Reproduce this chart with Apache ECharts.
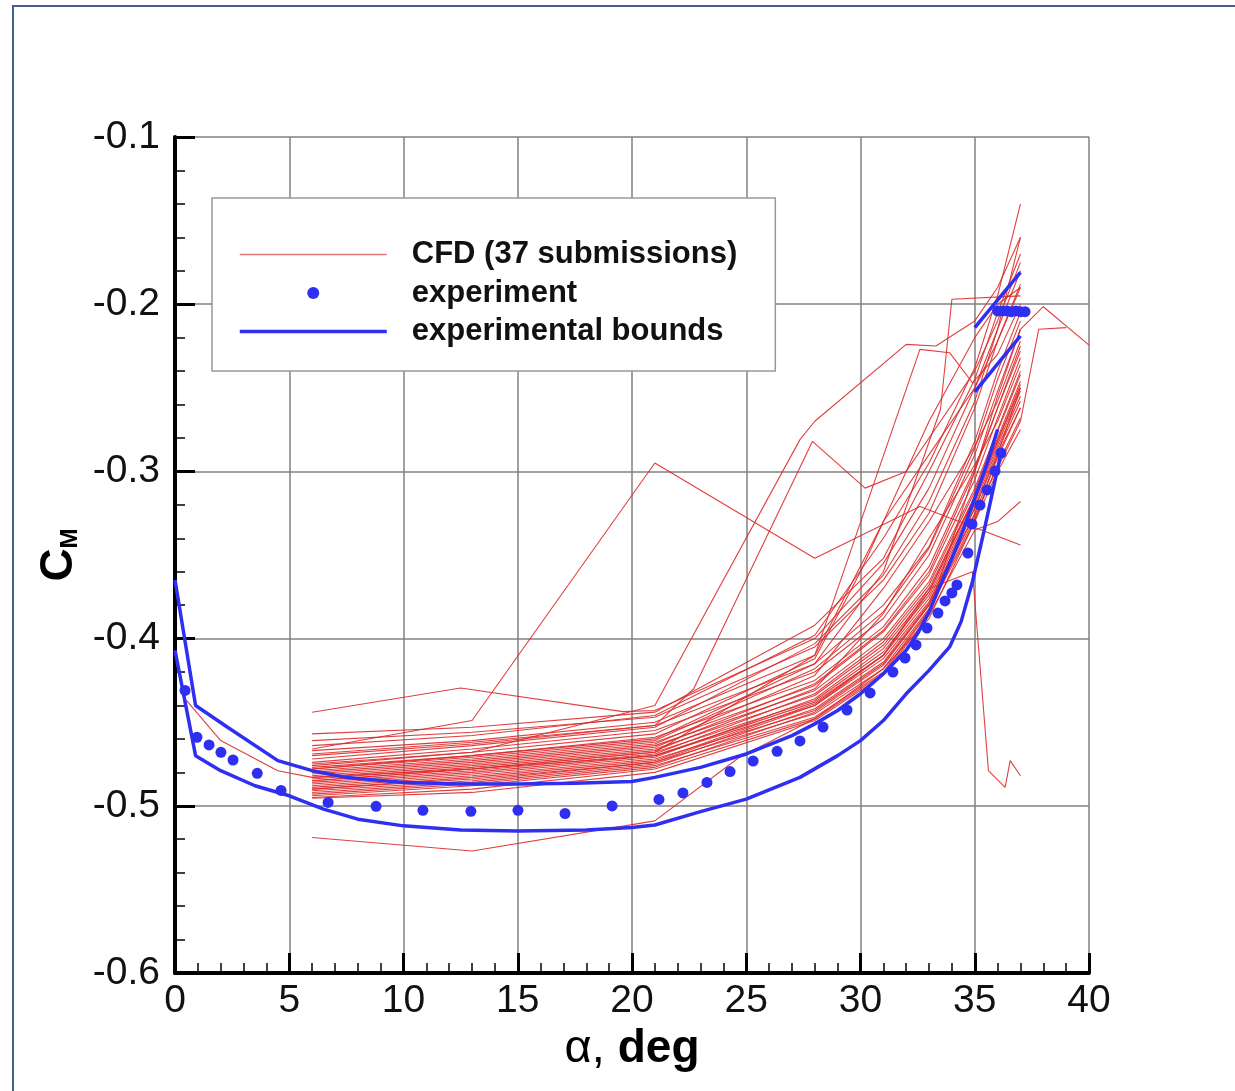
<!DOCTYPE html>
<html><head><meta charset="utf-8">
<script src="https://cdn.jsdelivr.net/npm/echarts@6/dist/echarts.min.js"></script>
<style>
html,body{margin:0;padding:0;background:#fff;overflow:hidden;width:1235px;height:1091px;}
#chart{position:absolute;left:0;top:0;width:1235px;height:1091px;}
#frame{position:absolute;left:12px;top:5px;width:1300px;height:1200px;border:2px solid #41618f;pointer-events:none;}
</style></head><body>
<div id="chart"></div><div id="frame"></div>
<script>
// ---- data (alpha in deg, CM) ----
const experiment = [[0.44,-0.431],[0.96,-0.459],[1.49,-0.4636],[2.01,-0.468],[2.54,-0.4726],[3.6,-0.4806],[4.64,-0.4908],[6.7,-0.498],[8.8,-0.5003],[10.85,-0.5027],[12.95,-0.5033],[15.01,-0.5027],[17.07,-0.5046],[19.13,-0.5001],[21.18,-0.4962],[22.23,-0.4923],[23.28,-0.486],[24.29,-0.4795],[25.3,-0.4732],[26.35,-0.4674],[27.35,-0.4612],[28.36,-0.4529],[29.41,-0.4427],[30.42,-0.4325],[31.42,-0.42],[31.95,-0.4116],[32.43,-0.4038],[32.91,-0.3937],[33.39,-0.3847],[33.7,-0.3775],[34.0,-0.3727],[34.22,-0.3679],[34.7,-0.3488],[34.88,-0.3315],[35.23,-0.3201],[35.54,-0.3111],[35.89,-0.2998],[36.15,-0.289],[36.0,-0.204],[36.2,-0.204],[36.4,-0.204],[36.6,-0.2045],[36.8,-0.204],[37.0,-0.2045],[37.2,-0.2045]];
const boundUpper = [[0,-0.365],[0.9,-0.440],[2.3,-0.453],[4.5,-0.473],[6,-0.479],[7.5,-0.483],[10,-0.486],[12.5,-0.487],[15,-0.487],[17.5,-0.4865],[20,-0.4855],[21,-0.483],[23,-0.477],[25,-0.469],[27,-0.458],[28,-0.451],[29,-0.443],[30,-0.433],[31,-0.421],[32,-0.407],[32.5,-0.397],[33,-0.384],[33.5,-0.368],[34,-0.352],[34.5,-0.335],[35,-0.316],[35.5,-0.297],[36,-0.275]];
const boundLower = [[0,-0.407],[0.9,-0.470],[2,-0.479],[3.5,-0.488],[5,-0.494],[6.5,-0.502],[8,-0.508],[10,-0.512],[12.5,-0.5145],[15,-0.515],[18,-0.5145],[20,-0.513],[21,-0.5115],[23,-0.5035],[25,-0.496],[27.35,-0.483],[29,-0.470],[30,-0.461],[31,-0.449],[32,-0.433],[33,-0.419],[33.9,-0.405],[34.4,-0.390],[34.9,-0.366],[35.4,-0.336],[35.8,-0.311],[36.1,-0.292]];
const boundPostUpper = [[35.0,-0.214],[37.0,-0.181]];
const boundPostLower = [[35.0,-0.2525],[37.0,-0.219]];

const cfd01 = [[6,-0.444],[12.5,-0.4295],[19.6,-0.4437],[21,-0.443],[28,-0.400],[31,-0.355],[33,-0.310],[35,-0.250],[36,-0.215],[37,-0.180]];
const cfd02 = [[6,-0.457],[13,-0.453],[21,-0.444],[28,-0.392],[31,-0.352],[33,-0.300],[35,-0.245],[36,-0.205],[37,-0.170]];
const cfd03 = [[6,-0.461],[13,-0.456],[21,-0.447],[28,-0.405],[31,-0.365],[33,-0.325],[35,-0.262],[36,-0.222],[37,-0.188]];
const cfd04 = [[6,-0.464],[13,-0.458],[21,-0.446],[28,-0.398],[31,-0.340],[33,-0.295],[35,-0.238],[36,-0.195],[37,-0.140]];
const cfd05 = [[6,-0.467],[13,-0.461],[21,-0.450],[28,-0.410],[31,-0.330],[33,-0.290],[35,-0.250],[36,-0.222],[37,-0.190]];
const cfd06 = [[6,-0.469],[13,-0.462],[21,-0.452],[28,-0.415],[31,-0.380],[33,-0.345],[35,-0.282],[36,-0.240],[37,-0.205]];
const cfd07 = [[6,-0.472],[13,-0.464],[21,-0.453],[28,-0.403],[31,-0.362],[33,-0.318],[35,-0.258],[36,-0.215],[37,-0.160]];
const cfd08 = [[6,-0.474],[13,-0.466],[21,-0.455],[28,-0.420],[31,-0.388],[33,-0.350],[35,-0.290],[36,-0.252],[37,-0.215]];
const cfd09 = [[6,-0.476],[13,-0.468],[21,-0.457],[28,-0.412],[30,-0.360],[32,-0.300],[33,-0.280],[35,-0.240],[36,-0.210],[37,-0.175]];
const cfd10 = [[6,-0.477],[13,-0.470],[21,-0.459],[28,-0.425],[31,-0.393],[33,-0.357],[35,-0.298],[36,-0.262],[37,-0.225]];
const cfd11 = [[6,-0.478],[13,-0.471],[21,-0.461],[28,-0.418],[31,-0.384],[33,-0.346],[35,-0.286],[36,-0.245],[37,-0.210]];
const cfd12 = [[6,-0.479],[13,-0.472],[21,-0.462],[28,-0.428],[31,-0.396],[33,-0.362],[35,-0.305],[36,-0.268],[37,-0.232]];
const cfd13 = [[6,-0.480],[13,-0.473],[21,-0.463],[28,-0.422],[31,-0.370],[33,-0.330],[35,-0.285],[36,-0.258],[37,-0.222]];
const cfd14 = [[6,-0.481],[13,-0.474],[21,-0.464],[28,-0.431],[31,-0.400],[33,-0.366],[35,-0.310],[36,-0.275],[37,-0.240]];
const cfd15 = [[6,-0.482],[13,-0.475],[21,-0.465],[28,-0.427],[31,-0.395],[33,-0.360],[35,-0.300],[36,-0.262],[37,-0.228]];
const cfd16 = [[6,-0.483],[13,-0.476],[21,-0.466],[28,-0.434],[31,-0.404],[33,-0.370],[35,-0.315],[36,-0.280],[37,-0.246]];
const cfd17 = [[6,-0.484],[13,-0.477],[21,-0.467],[28,-0.430],[31,-0.385],[33,-0.340],[35,-0.296],[36,-0.270],[37,-0.236]];
const cfd18 = [[6,-0.485],[13,-0.478],[21,-0.468],[28,-0.437],[31,-0.408],[33,-0.374],[35,-0.318],[36,-0.284],[37,-0.252]];
const cfd19 = [[6,-0.486],[13,-0.479],[21,-0.469],[28,-0.433],[31,-0.402],[33,-0.368],[35,-0.312],[36,-0.276],[37,-0.242]];
const cfd20 = [[6,-0.487],[13,-0.480],[21,-0.470],[28,-0.440],[31,-0.412],[33,-0.378],[35,-0.322],[36,-0.288],[37,-0.258]];
const cfd21 = [[6,-0.488],[13,-0.481],[21,-0.471],[28,-0.436],[31,-0.406],[33,-0.372],[35,-0.316],[36,-0.282],[37,-0.250]];
const cfd22 = [[6,-0.489],[13,-0.482],[21,-0.472],[28,-0.443],[31,-0.415],[33,-0.380],[35,-0.325],[36,-0.292],[37,-0.262]];
const cfd23 = [[6,-0.490],[13,-0.483],[21,-0.473],[28,-0.439],[31,-0.410],[33,-0.376],[35,-0.320],[36,-0.286],[37,-0.255]];
const cfd24 = [[6,-0.491],[13,-0.485],[21,-0.474],[28,-0.445],[31,-0.418],[33,-0.382],[35,-0.328],[36,-0.296],[37,-0.268]];
const cfd25 = [[6,-0.492],[13,-0.486],[21,-0.475],[28,-0.442],[31,-0.414],[33,-0.379],[35,-0.322],[36,-0.290],[37,-0.262]];
const cfd26 = [[6,-0.493],[13,-0.487],[21,-0.476],[28,-0.447],[31,-0.420],[33,-0.383],[35,-0.330],[36,-0.300],[37,-0.275]];
const cfd27 = [[6,-0.494],[13,-0.488],[21,-0.477],[28,-0.444],[31,-0.416],[33,-0.380],[35,-0.326],[36,-0.298],[37,-0.270],[37.8,-0.215],[39,-0.214]];
const cfd28 = [[6,-0.495],[13,-0.490],[21,-0.478],[28,-0.448],[31,-0.421],[33,-0.384],[35,-0.300],[36,-0.255],[37,-0.215],[38,-0.2015],[40,-0.2245]];
const cfd29 = [[6,-0.4955],[13,-0.492],[21,-0.480],[28,-0.449],[31,-0.422],[33,-0.386],[35,-0.335],[36,-0.330],[37,-0.318]];
const cfd30 = [[6,-0.519],[13,-0.527],[21,-0.509],[24.7,-0.471],[28,-0.448],[31,-0.418],[33,-0.388],[35,-0.330],[36,-0.290],[37,-0.250]];
const cfd31 = [[0.5,-0.437],[2,-0.461],[4.5,-0.479],[6,-0.483],[13,-0.478],[21,-0.470],[28,-0.438],[31,-0.410],[33,-0.372],[35,-0.315],[36,-0.282],[37,-0.248]];
const cfd32 = [[6,-0.466],[13,-0.449],[21,-0.295],[28,-0.352],[32.6,-0.321],[37,-0.344]];
const cfd33 = [[6,-0.470],[13,-0.463],[21,-0.452],[22.7,-0.430],[27.9,-0.282],[30.2,-0.310],[32,-0.300],[33,-0.270],[35,-0.220],[36,-0.200],[37,-0.190]];
const cfd34 = [[6,-0.475],[13,-0.468],[21,-0.440],[27.35,-0.281],[28,-0.270],[32,-0.224],[33.3,-0.225],[35,-0.210],[36,-0.190],[37,-0.160]];
const cfd35 = [[6,-0.478],[13,-0.470],[21,-0.460],[28,-0.415],[31,-0.360],[33.5,-0.263],[34,-0.197],[37,-0.195]];
const cfd36 = [[6,-0.485],[13,-0.478],[21,-0.468],[28,-0.410],[32.6,-0.227],[33.9,-0.229],[34.9,-0.247],[36,-0.230],[37,-0.200]];
const cfd37 = [[6,-0.490],[13,-0.484],[21,-0.474],[28,-0.440],[31,-0.410],[33,-0.370],[34.9,-0.360],[35.6,-0.479],[36.33,-0.489],[36.55,-0.473],[37,-0.482]];

const cfdRuns = [cfd01,cfd02,cfd03,cfd04,cfd05,cfd06,cfd07,cfd08,cfd09,cfd10,cfd11,cfd12,cfd13,cfd14,cfd15,cfd16,cfd17,cfd18,cfd19,cfd20,cfd21,cfd22,cfd23,cfd24,cfd25,cfd26,cfd27,cfd28,cfd29,cfd30,cfd31,cfd32,cfd33,cfd34,cfd35,cfd36,cfd37];

const NAME_CFD = 'CFD (37 submissions)';
const NAME_EXP = 'experiment';
const NAME_BND = 'experimental bounds';
const RED = '#dd2a2a';
const BLUE = '#2f2ff2';
const FONT = '"Liberation Sans", Arial, Helvetica, sans-serif';

const series = [];
cfdRuns.forEach(function (run) {
  series.push({ name: NAME_CFD, type: 'line', data: run, symbol: 'none', showSymbol: false,
    lineStyle: { color: RED, width: 1.1, opacity: 0.9 }, itemStyle: { color: RED }, z: 2, silent: true, animation: false });
});
[boundUpper, boundLower, boundPostUpper, boundPostLower].forEach(function (b) {
  series.push({ name: NAME_BND, type: 'line', data: b, symbol: 'none', showSymbol: false,
    lineStyle: { color: BLUE, width: 3.5 }, itemStyle: { color: BLUE }, z: 3, silent: true, animation: false });
});
series.push({ name: NAME_EXP, type: 'scatter', data: experiment, symbol: 'circle', symbolSize: 11,
  itemStyle: { color: BLUE, opacity: 1 }, z: 4, silent: true, animation: false });

const chart = echarts.init(document.getElementById('chart'), null, { renderer: 'canvas' });
chart.setOption({
  animation: false,
  backgroundColor: 'transparent',
  grid: { left: 175, right: 146, top: 137, bottom: 118, containLabel: false },
  legend: {
    data: [
      { name: NAME_CFD, itemStyle: { opacity: 0 }, lineStyle: { color: '#e06a6a', width: 1.3 } },
      { name: NAME_EXP, icon: 'circle' },
      { name: NAME_BND, itemStyle: { opacity: 0 }, lineStyle: { color: BLUE, width: 3.5 } }
    ],
    orient: 'vertical', left: 212, top: 198,
    itemWidth: 147, itemHeight: 12, itemGap: 7.5,
    padding: [41, 38, 24, 26],
    backgroundColor: '#fff', borderColor: '#999', borderWidth: 1.5,
    textStyle: { fontFamily: FONT, fontSize: 31, fontWeight: 'bold', color: '#111', lineHeight: 31, padding: [0, 0, 0, 20] },
    selectedMode: false, z: 10
  },
  xAxis: {
    type: 'value', min: 0, max: 40, interval: 5,
    name: '{a|α, }{b|deg}', nameLocation: 'middle', nameGap: 46,
    nameTextStyle: { rich: {
      a: { fontFamily: FONT, fontSize: 47, color: '#000' },
      b: { fontFamily: FONT, fontSize: 46, fontWeight: 'bold', color: '#000' } } },
    axisLine: { show: true, onZero: false, lineStyle: { color: '#000', width: 4 } },
    axisTick: { show: true, inside: true, length: 20, lineStyle: { color: '#000', width: 3 } },
    minorTick: { show: true, splitNumber: 5, length: 10, lineStyle: { color: '#000', width: 1.5 } },
    axisLabel: { fontFamily: FONT, fontSize: 39, color: '#111', margin: 9 },
    splitLine: { show: true, lineStyle: { color: '#808080', width: 1.5 } }
  },
  yAxis: {
    type: 'value', min: -0.6, max: -0.1, interval: 0.1,
    name: '{c|C}{m|M}', nameLocation: 'middle', nameGap: 78, nameRotate: 90,
    nameTextStyle: { rich: {
      c: { fontFamily: FONT, fontSize: 46, fontWeight: 'bold', color: '#000' },
      m: { fontFamily: FONT, fontSize: 24, fontWeight: 'bold', color: '#000', verticalAlign: 'bottom', padding: [14, 0, 0, 0] } } },
    axisLine: { show: true, onZero: false, lineStyle: { color: '#000', width: 4 } },
    axisTick: { show: true, inside: true, length: 20, lineStyle: { color: '#000', width: 3 } },
    minorTick: { show: true, splitNumber: 5, length: 10, lineStyle: { color: '#000', width: 1.5 } },
    axisLabel: { fontFamily: FONT, fontSize: 39, color: '#111', margin: 15, formatter: function (v) { return v.toFixed(1); } },
    splitLine: { show: true, lineStyle: { color: '#808080', width: 1.5 } }
  },
  series: series
});
</script></body></html>
